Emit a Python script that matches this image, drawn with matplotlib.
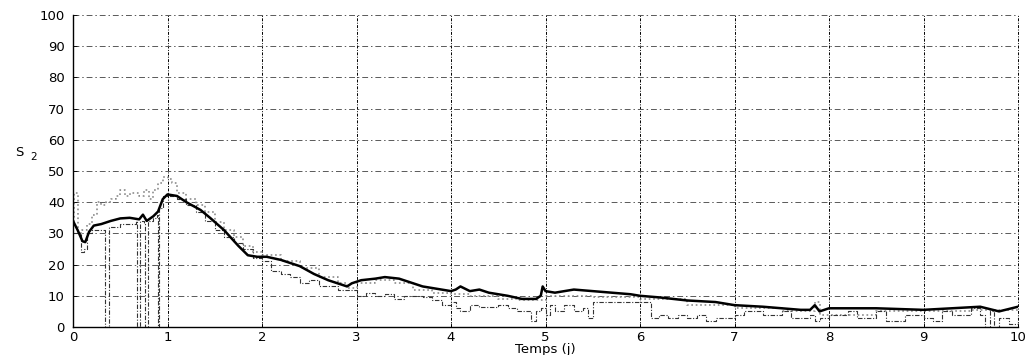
import matplotlib
matplotlib.use("Agg")
import matplotlib.pyplot as plt

# Estimated substrate concentration S2 (thick solid line)
t_est = [0.0, 0.05, 0.10, 0.13, 0.17, 0.22, 0.30, 0.40, 0.50, 0.60, 0.70, 0.74, 0.78, 0.85,
         0.90, 0.95, 1.00, 1.10, 1.20, 1.35, 1.45, 1.60, 1.75, 1.85, 1.95, 2.05, 2.20, 2.40,
         2.55, 2.70, 2.85, 2.90, 2.95, 3.05, 3.20, 3.30, 3.45, 3.60, 3.70, 3.90, 4.00, 4.05,
         4.10, 4.20, 4.30, 4.40, 4.60, 4.75, 4.90, 4.95, 4.97, 5.00, 5.10, 5.30, 5.50, 5.70,
         5.90, 6.00, 6.20, 6.50, 6.80, 7.00, 7.30, 7.70, 7.80, 7.85, 7.90, 8.00, 8.50, 9.00,
         9.30, 9.60, 9.80, 10.0]
s2_est = [34.0, 31.0, 27.5, 27.2, 30.5, 32.5, 33.0, 34.0, 34.8, 35.0, 34.5, 36.0, 34.0, 35.5,
          37.0, 41.0, 42.5, 42.0, 40.0, 37.5, 35.0, 31.0, 26.0, 23.0, 22.5, 22.5, 21.5, 19.5,
          17.0, 15.0, 13.5, 13.0, 14.0, 15.0, 15.5, 16.0, 15.5, 14.0, 13.0, 12.0, 11.5, 12.0,
          13.0, 11.5, 12.0, 11.0, 10.0, 9.0, 9.0, 10.0, 13.0, 11.5, 11.0, 12.0, 11.5, 11.0,
          10.5, 10.0, 9.5, 8.5, 8.0, 7.0, 6.5, 5.5, 5.5, 7.0, 5.0, 6.0, 6.0, 5.5,
          6.0, 6.5, 5.0, 6.5]

# First measurement (grey dotted line)
t_m1 = [0.0, 0.01, 0.05, 0.10, 0.15, 0.20, 0.25, 0.30, 0.35, 0.40, 0.45, 0.50, 0.55, 0.60,
        0.70, 0.75, 0.80, 0.85, 0.90, 0.95, 1.00, 1.05, 1.10, 1.20, 1.30, 1.40, 1.50, 1.60,
        1.70, 1.80, 1.90, 2.00, 2.20, 2.40, 2.60, 2.80, 2.90, 3.00, 3.20, 3.40, 3.60, 3.80,
        4.00, 4.20, 4.50, 4.70, 4.90, 5.00, 5.50, 6.00, 6.50, 7.00, 7.50, 7.85, 7.90, 8.50,
        9.00, 9.50, 10.0]
s2_m1 = [34.0, 43.0, 30.0, 31.0, 33.0, 36.0, 40.0, 39.0, 40.0, 41.0, 42.0, 44.0, 42.0, 43.0,
         42.0, 44.0, 41.0, 44.0, 46.0, 48.0, 47.5, 46.0, 43.0, 41.0, 39.0, 37.0, 33.5, 31.0,
         29.0, 26.0, 24.0, 23.0, 21.0, 19.0, 16.0, 14.0, 12.5, 14.0, 15.0, 14.0, 12.0, 11.0,
         10.5, 10.0, 9.0, 8.5, 8.5, 10.0, 9.5, 9.0, 7.0, 6.0, 5.0, 8.0, 4.0, 5.0,
         5.0, 5.5, 5.0]

# Second measurement with sensor dropouts (dash-dot line)
t_m2 = [0.0, 0.05, 0.08, 0.12, 0.15, 0.20, 0.30, 0.33, 0.34, 0.37, 0.38, 0.50, 0.60, 0.67,
        0.68, 0.70, 0.71, 0.75, 0.76, 0.78, 0.79, 0.85, 0.89, 0.895, 0.905, 0.91, 0.95, 1.00,
        1.10, 1.20, 1.30, 1.40, 1.50, 1.60, 1.70, 1.80, 1.90, 2.00, 2.10, 2.20, 2.30, 2.40,
        2.50, 2.60, 2.70, 2.80, 2.90, 3.00, 3.10, 3.20, 3.30, 3.40, 3.50, 3.60, 3.70, 3.80,
        3.90, 4.00, 4.05, 4.10, 4.20, 4.30, 4.40, 4.50, 4.60, 4.70, 4.80, 4.85, 4.90, 4.95,
        5.00, 5.05, 5.10, 5.20, 5.30, 5.40, 5.45, 5.50, 6.00, 6.10, 6.12, 6.20, 6.30, 6.40,
        6.50, 6.60, 6.70, 6.80, 6.90, 7.00, 7.10, 7.30, 7.50, 7.60, 7.80, 7.85, 7.90, 8.00,
        8.20, 8.30, 8.50, 8.60, 8.80, 9.00, 9.10, 9.20, 9.30, 9.50, 9.60, 9.65, 9.70, 9.75,
        9.80, 9.90, 10.0]
s2_m2 = [30.0, 30.0, 24.0, 25.0, 30.0, 31.0, 31.0, 31.0, 0.0, 0.0, 32.0, 33.0, 33.0, 34.0,
         0.0, 0.0, 34.0, 33.0, 0.0, 0.0, 34.0, 35.0, 36.0, 0.0, 0.0, 38.0, 42.0, 42.0,
         41.0, 39.0, 37.0, 34.0, 31.0, 29.0, 27.0, 25.0, 22.0, 21.0, 18.0, 17.0, 16.0, 14.0,
         15.0, 13.0, 13.0, 12.0, 12.0, 10.0, 11.0, 10.0, 10.5, 9.0, 10.0, 10.0, 9.5, 8.5,
         7.0, 8.0, 6.0, 5.0, 7.0, 6.5, 6.5, 7.0, 6.0, 5.0, 5.0, 2.0, 5.0, 6.0,
         4.0, 7.0, 5.0, 7.0, 5.0, 6.0, 3.0, 8.0, 8.0, 8.0, 3.0, 4.0, 3.0, 4.0,
         3.0, 4.0, 2.0, 3.0, 3.0, 4.0, 5.0, 4.0, 5.0, 3.0, 4.0, 2.0, 3.0, 4.0,
         5.0, 3.0, 5.0, 2.0, 4.0, 3.0, 2.0, 5.0, 4.0, 6.0, 4.0, 0.0, 5.0, 0.0,
         3.0, 1.0, 4.0]

x_ticks = list(range(0, 11))
y_ticks = list(range(0, 101, 10))

fig = plt.figure(figsize=(10.26, 3.55), dpi=100)
ax = fig.add_axes([73 / 1026, 1 - 327 / 355, (1018 - 73) / 1026, (327 - 15) / 355])

ax.plot(t_m1, s2_m1, color="0.55", linestyle=":", linewidth=1.2, drawstyle="steps-post")
ax.plot(t_m2, s2_m2, color="0.2", linestyle=(0, (4, 1.5, 1, 1.5)), linewidth=0.8,
        drawstyle="steps-post")
ax.plot(t_est, s2_est, color="black", linestyle="-", linewidth=1.8)

ax.set_xlim(0, 10)
ax.set_ylim(0, 100)
ax.set_xticks(x_ticks)
ax.set_yticks(y_ticks)
ax.tick_params(direction="in", length=3, labelsize=9.5, width=0.6)
ax.tick_params(axis="x", pad=3)
ax.tick_params(axis="y", pad=6)

for side in ("top", "right"):
    ax.spines[side].set_visible(False)
for side in ("left", "bottom"):
    ax.spines[side].set_linewidth(1.0)

ax.grid(True, axis="x", color="black", linestyle=(0, (3, 1.5, 1, 1.5)), linewidth=0.7)
ax.grid(True, axis="y", color="0.35", linestyle=(0, (6, 3, 1.5, 3)), linewidth=0.7)
for gl in ax.get_xgridlines() + ax.get_ygridlines():
    gl.set_clip_on(False)

ax.set_xlabel("Temps (j)", fontsize=9.5, labelpad=-1)
fig.text(15 / 1026, 1 - 153 / 355, "S", fontsize=9.5, ha="left", va="center")
fig.text(30 / 1026, 1 - 157 / 355, "2", fontsize=7.5, ha="left", va="center")

fig.savefig("out.png", dpi=100)
